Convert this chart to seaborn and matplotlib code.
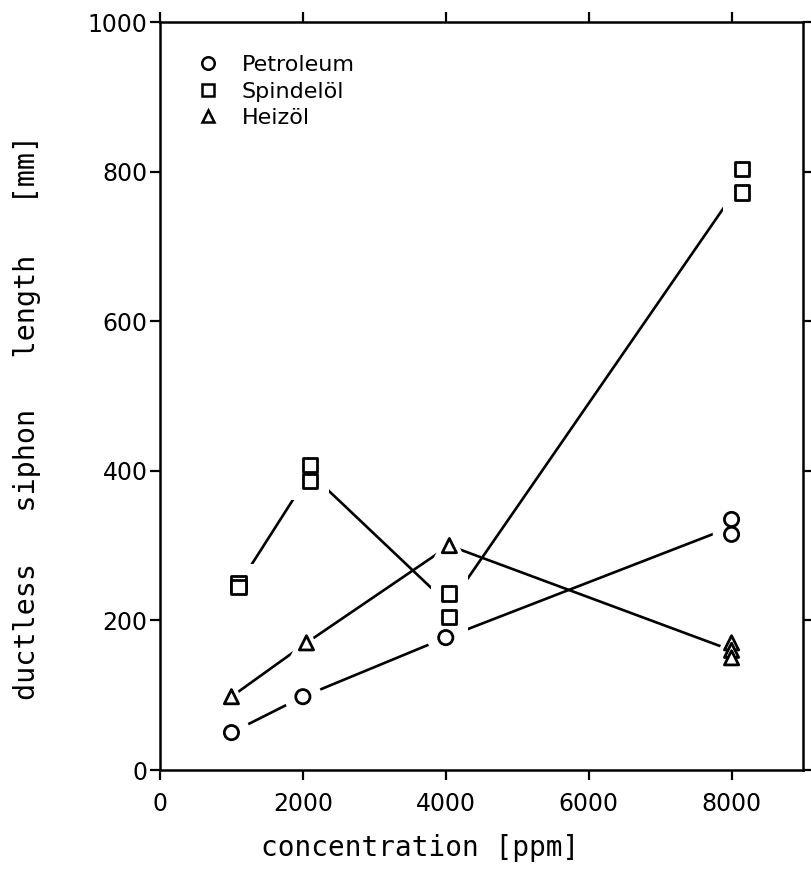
import matplotlib
matplotlib.use("Agg")
import matplotlib.pyplot as plt
import seaborn as sns
import pandas as pd
from matplotlib.lines import Line2D

# ---- data ----
pet_x = [1000, 2000, 4000, 8000, 8000]
pet_y = [50, 98, 177, 335, 315]

spin_x = [1100, 1100, 2100, 2100, 4050, 4050, 8150, 8150]
spin_y = [250, 245, 408, 386, 236, 205, 803, 772]

heiz_x = [1000, 2050, 4050, 8000, 8000, 8000]
heiz_y = [98, 170, 300, 170, 160, 150]

series_names = ["Petroleum", "Spindelöl", "Heizöl"]
x_ticks = [0, 2000, 4000, 6000, 8000]
y_ticks = [0, 200, 400, 600, 800, 1000]

sns.set_theme(style="white")
plt.rcParams["font.family"] = ["DejaVu Sans"]
plt.rcParams["text.color"] = "black"
plt.rcParams["axes.labelcolor"] = "black"
plt.rcParams["xtick.color"] = "black"
plt.rcParams["ytick.color"] = "black"

rows = []
for name, xs, ys in zip(series_names, [pet_x, spin_x, heiz_x], [pet_y, spin_y, heiz_y]):
    for x, y in zip(xs, ys):
        rows.append({"series": name, "conc": x, "len": y})
df = pd.DataFrame(rows)
# group x so that means are computed per nominal concentration
df["xg"] = df.groupby(["series", (df["conc"] / 1000).round().astype(int)])["conc"].transform("mean")

fig = plt.figure(figsize=(8.11, 8.82), dpi=100)
ax = fig.add_axes([160 / 811, 1 - 770 / 882, 643 / 811, 748 / 882])

markers = {"Petroleum": "o", "Spindelöl": "s", "Heizöl": "^"}
ms = 105

# connecting lines through the means
sns.lineplot(data=df, x="xg", y="len", hue="series", estimator="mean", errorbar=None,
             palette={n: "black" for n in series_names}, linewidth=1.9,
             legend=False, ax=ax)
for ln in ax.lines:
    ln.set_zorder(1)
n_before = len(ax.collections)
# white halo to create gaps near markers
sns.scatterplot(data=df, x="conc", y="len", style="series", markers=markers,
                s=ms * 7, color="white", edgecolor="white", linewidth=0,
                legend=False, ax=ax)
for c in ax.collections[n_before:]:
    c.set_zorder(2)
    c.set_facecolor("white")
    c.set_edgecolor("white")
n_before = len(ax.collections)
# actual markers
sns.scatterplot(data=df, x="conc", y="len", style="series", markers=markers,
                s=ms, facecolor="white", edgecolor="black", linewidth=2.0,
                legend=False, ax=ax)
for c in ax.collections[n_before:]:
    c.set_zorder(3)

ax.set_xlim(0, 9000)
ax.set_ylim(0, 1000)
ax.set_xticks(x_ticks)
ax.set_xticklabels([str(v) for v in x_ticks])
ax.set_yticks(y_ticks)
ax.set_yticklabels([str(v) for v in y_ticks])

for sp in ax.spines.values():
    sp.set_visible(True)
    sp.set_color("black")
    sp.set_linewidth(1.8)
    sp.set_zorder(4)

ax.tick_params(axis="both", which="both", direction="out", length=7, width=1.6,
               colors="black", labelsize=17)
ax.tick_params(axis="x", pad=9, top=True, bottom=True)
ax.tick_params(axis="y", pad=2, left=True, right=True)

ax.set_xlabel("concentration [ppm]", fontsize=20, family="DejaVu Sans Mono",
              va="center", color="black")
ax.set_ylabel("ductless   siphon   length   [mm]", fontsize=20.5,
              family="DejaVu Sans Mono", va="center", color="black")
ax.xaxis.set_label_coords((420 - 160) / 643, (770 - 848) / 748)
ax.yaxis.set_label_coords((27 - 160) / 643, (770 - 417) / 748)

handles = [Line2D([], [], linestyle="none", marker=markers[n], markersize=9,
                  markerfacecolor="white", markeredgecolor="black", markeredgewidth=1.8)
           for n in series_names]
leg = ax.legend(handles, series_names, loc="upper left",
                bbox_to_anchor=((186 - 160) / 643, (770 - 46) / 748),
                frameon=False, fontsize=16, handletextpad=0.9, labelspacing=0.3,
                handlelength=1.2, borderaxespad=0)
for t in leg.get_texts():
    t.set_color("black")

fig.savefig("out.png", dpi=100, facecolor="white")
